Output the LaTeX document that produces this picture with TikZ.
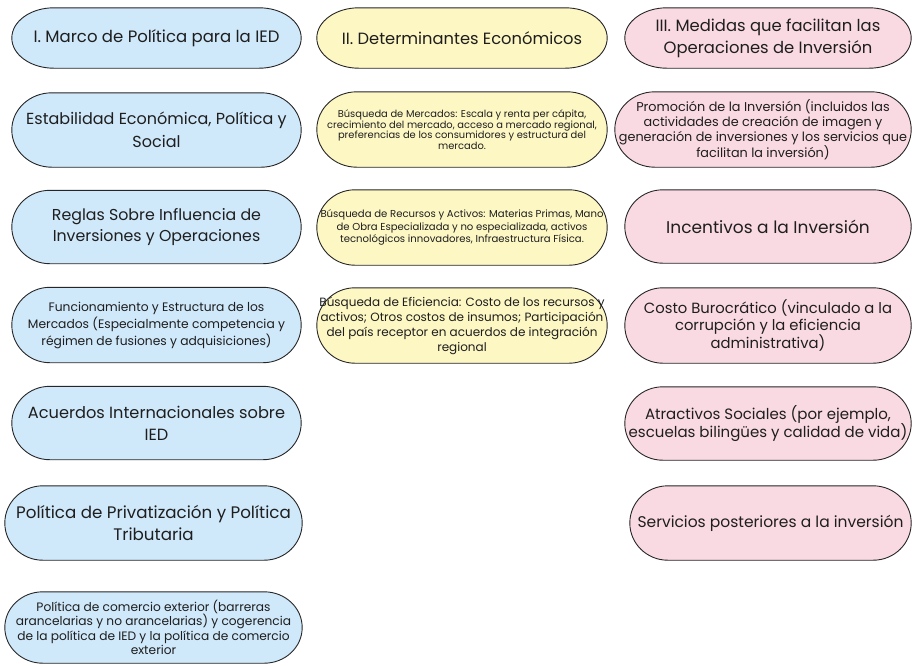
\documentclass[tikz,border=0pt]{standalone}
\usepackage{fontspec}
\setmainfont{Poppins}
\usetikzlibrary{calc,backgrounds}
\definecolor{pblue}{RGB}{207,232,250}
\definecolor{pyellow}{RGB}{253,247,196}
\definecolor{ppink}{RGB}{250,218,226}
\definecolor{ptext}{RGB}{30,30,30}
\tikzset{
  pill/.style={inner sep=0pt, align=center, text=ptext},
  pillline/.style={draw=black!85, line width=0.9pt},
  fs/.style 2 args={font=\fontsize{#1}{#2}\selectfont},
}
\newcommand{\pillpath}[3]{%
  \draw[pillline, fill=#2] let \p1=(#1.north west), \p2=(#1.south east), \n1={(\y1-\y2)/2} in
   (\x1+#3,\y1) -- (\x2-#3,\y1) arc[start angle=90,end angle=-90,x radius=#3,y radius=\n1]
   -- (\x1+#3,\y2) arc[start angle=270,end angle=90,x radius=#3,y radius=\n1] -- cycle;
}
\begin{document}
\begin{tikzpicture}[x=1pt,y=-1pt]
\useasboundingbox (0,0) rectangle (912,665);
% left column
\node[pill, fs={16.5}{21}, minimum width=289pt, minimum height=60pt] (L1) at (156.5,38) {I. Marco de Política para la IED};
\node[pill, fs={16}{23}, minimum width=289pt, minimum height=74pt] (L2) at (156.5,130) {Estabilidad Económica, Política y\\Social};
\node[pill, fs={15.8}{21}, minimum width=289pt, minimum height=73pt] (L3) at (156.5,227) {Reglas Sobre Influencia de\\Inversiones y Operaciones};
\node[pill, fs={12.3}{17}, minimum width=289pt, minimum height=75pt] (L4) at (156.5,325) {Funcionamiento y Estructura de los\\Mercados (Especialmente competencia y\\régimen de fusiones y adquisiciones)};
\node[pill, fs={16.2}{22}, minimum width=289pt, minimum height=73pt] (L5) at (156.5,423) {Acuerdos Internacionales sobre\\IED};
\node[pill, fs={16.7}{22}, minimum width=297pt, minimum height=74pt] (L6) at (153.5,523) {Política de Privatización y Política\\Tributaria};
\node[pill, fs={12.2}{14.5}, minimum width=297pt, minimum height=71pt] (L7) at (153.5,627.5) {Política de comercio exterior (barreras\\arancelarias y no arancelarias) y cogerencia\\de la política de IED y la política de comercio\\exterior};
% middle column
\node[pill, fs={16.3}{21}, minimum width=290pt, minimum height=60pt] (M1) at (462,38) {II. Determinantes Económicos};
\node[pill, fs={9.9}{10.5}, minimum width=290pt, minimum height=75pt] (M2) at (462,129.5) {Búsqueda de Mercados: Escala y renta per cápita,\\crecimiento del mercado, acceso a mercado regional,\\preferencias de los consumidores y estructura del\\mercado.};
\node[pill, fs={10.1}{12.5}, minimum width=290pt, minimum height=75pt] (M3) at (462,227.5) {Búsqueda de Recursos y Activos: Materias Primas, Mano\\de Obra Especializada y no especializada, activos\\tecnológicos innovadores, Infraestructura Física.};
\node[pill, fs={12}{15}, minimum width=290pt, minimum height=75pt] (M4) at (462,325.5) {Búsqueda de Eficiencia: Costo de los recursos y\\activos; Otros costos de insumos; Participación\\del país receptor en acuerdos de integración\\regional};
% right column
\node[pill, fs={16.4}{22}, minimum width=286pt, minimum height=60pt] (R1) at (768,38) {III. Medidas que facilitan las\\Operaciones de Inversión};
\node[pill, fs={12.8}{15}, minimum width=296pt, minimum height=75pt] (R2) at (763,129.5) {Promoción de la Inversión (incluidos las\\actividades de creación de imagen y\\generación de inversiones y los servicios que\\facilitan la inversión)};
\node[pill, fs={17}{21}, minimum width=286pt, minimum height=73pt] (R3) at (768,226.5) {Incentivos a la Inversión};
\node[pill, fs={14.8}{17}, minimum width=286pt, minimum height=75pt] (R4) at (768,325.5) {Costo Burocrático (vinculado a la\\corrupción y la eficiencia\\administrativa)};
\node[pill, fs={15}{18}, minimum width=286pt, minimum height=73pt] (R5) at (768,423.5) {Atractivos Sociales (por ejemplo,\\escuelas bilingües y calidad de vida)};
\node[pill, fs={15.5}{20}, minimum width=281pt, minimum height=74pt] (R6) at (770.5,523) {Servicios posteriores a la inversión};
\begin{scope}[on background layer]
\pillpath{L1}{pblue}{42pt}
\pillpath{L2}{pblue}{40pt}
\pillpath{L3}{pblue}{38pt}
\pillpath{L4}{pblue}{38pt}
\pillpath{L5}{pblue}{38pt}
\pillpath{L6}{pblue}{38pt}
\pillpath{L7}{pblue}{38pt}
\pillpath{M1}{pyellow}{42pt}
\pillpath{M2}{pyellow}{40pt}
\pillpath{M3}{pyellow}{38pt}
\pillpath{M4}{pyellow}{38pt}
\pillpath{R1}{ppink}{42pt}
\pillpath{R2}{ppink}{40pt}
\pillpath{R3}{ppink}{38pt}
\pillpath{R4}{ppink}{38pt}
\pillpath{R5}{ppink}{38pt}
\pillpath{R6}{ppink}{38pt}
\end{scope}
\end{tikzpicture}
\end{document}
